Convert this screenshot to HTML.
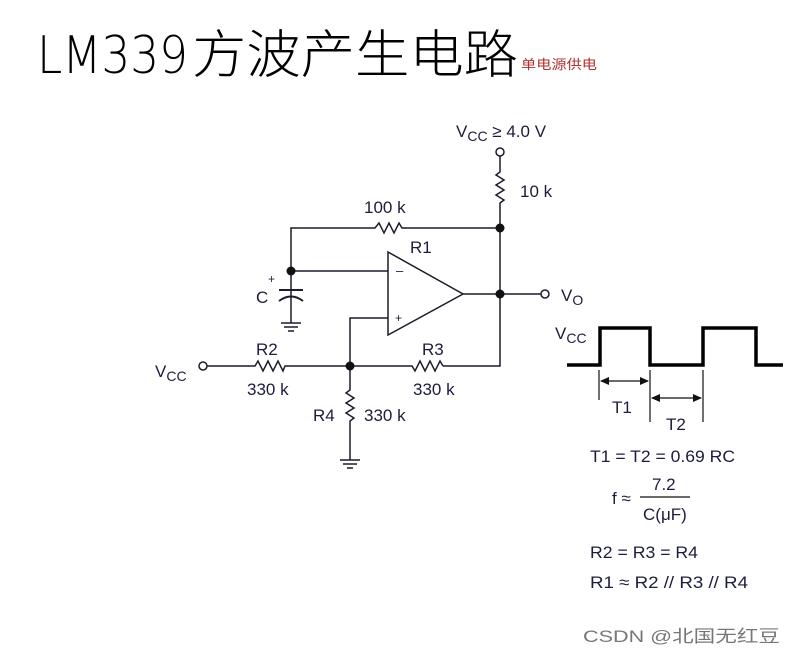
<!DOCTYPE html>
<html><head><meta charset="utf-8"><style>
html,body{margin:0;padding:0;background:#fff;}
svg{display:block;}
text{font-family:"Liberation Sans","Noto Sans CJK SC",sans-serif;fill:#1c1c3c;}
.t{fill:#000;font-family:'DejaVu Sans ExtraLight','DejaVu Sans','Noto Sans CJK SC',sans-serif;}
</style></head><body>
<svg width="797" height="655" viewBox="0 0 797 655" xmlns="http://www.w3.org/2000/svg">
<text class="t" x="37" y="73" font-size="52" font-weight="200" textLength="151" lengthAdjust="spacingAndGlyphs">LM339</text>
<text class="t" x="192" y="73" font-size="52" font-weight="200" textLength="326" lengthAdjust="spacingAndGlyphs">方波产生电路</text>
<text x="521" y="69" font-size="13" style="fill:#b03030" textLength="76" lengthAdjust="spacingAndGlyphs">单电源供电</text>

<g stroke="#1c1c2c" stroke-width="1.5" fill="none">
<circle cx="500" cy="152" r="4" fill="#fff"/>
<path d="M500 156 V172 l-4 3 l8 5 l-8 5 l8 5 l-8 5 l8 5 l-4 3 V366 H443"/>
<path d="M500 228 H402 l-3 -5 l-5 10 l-5 -10 l-5 10 l-5 -10 l-4 5 H291 V297"/>
<path d="M291 271 H388"/>
<path d="M388 252 L463 294 L388 335 Z"/>
<path d="M463 294 H541"/>
<circle cx="545" cy="294" r="4" fill="#fff"/>
<path d="M388 318 H350 V390 l-4 3 l8 5 l-8 5 l8 5 l-8 5 l8 5 l-4 3 V460"/>
<path d="M443 366 l-3 -5 l-5 10 l-5 -10 l-5 10 l-5 -10 l-5 10 l-3 -5 H350"/>
<circle cx="203" cy="366" r="4" fill="#fff"/>
<path d="M207 366 H255 l3 -5 l5 10 l5 -10 l5 10 l5 -10 l5 10 l2 -5 H350"/>
<path d="M279 290 H303" stroke-width="2"/>
<path d="M279 301 Q291 292 303 301" stroke-width="2"/>
<path d="M291 296 V323"/>
<path d="M281 323 H301 M284 327 H298 M288 331 H294"/>
<path d="M340 460 H360 M343 464 H357 M347 468 H353"/>
</g>
<g fill="#111">
<circle cx="500" cy="228" r="4.5"/><circle cx="291" cy="271" r="4.5"/>
<circle cx="500" cy="294" r="4.5"/><circle cx="350" cy="366" r="4.5"/>
</g>
<g font-size="17">
<text x="456" y="137">V<tspan font-size="14" dy="4">CC</tspan><tspan dy="-4"> ≥ 4.0 V</tspan></text>
<text x="520" y="197">10 k</text>
<text x="364" y="213">100 k</text>
<text x="410" y="253">R1</text>
<text x="256" y="303">C</text>
<text x="268" y="283" font-size="12">+</text>
<text x="396" y="275" font-size="13">–</text>
<text x="395" y="322" font-size="12">+</text>
<text x="561" y="301">V<tspan font-size="14" dy="4">O</tspan></text>
<text x="155" y="377">V<tspan font-size="14" dy="4">CC</tspan></text>
<text x="256" y="355">R2</text>
<text x="247" y="395">330 k</text>
<text x="422" y="355">R3</text>
<text x="413" y="395">330 k</text>
<text x="313" y="421">R4</text>
<text x="364" y="421">330 k</text>
<text x="555" y="339">V<tspan font-size="14" dy="4">CC</tspan></text>
</g>
<path d="M567 365 H600 V328 H650 V365 H703 V328 H756 V365 H783" stroke="#000" stroke-width="3.5" fill="none"/>
<g stroke="#111" stroke-width="1.2" fill="none">
<path d="M599 370 V400 M650 370 V422 M703 370 V422"/>
<path d="M601 381 H648 M652 398 H701"/>
</g>
<g fill="#111">
<path d="M600 381 l9 -4 v8z M649 381 l-9 -4 v8z M651 398 l9 -4 v8z M702 398 l-9 -4 v8z"/>
</g>
<g font-size="17">
<text x="612" y="413">T1</text>
<text x="666" y="430">T2</text>
<text x="590" y="462" textLength="145" lengthAdjust="spacingAndGlyphs">T1 = T2 = 0.69 RC</text>
<text x="612" y="504">f ≈</text>
<text x="652" y="490">7.2</text>
<line x1="640" y1="497" x2="690" y2="497" stroke="#111" stroke-width="1.2"/>
<text x="643" y="520">C(μF)</text>
<text x="590" y="558" textLength="108" lengthAdjust="spacingAndGlyphs">R2 = R3 = R4</text>
<text x="590" y="588" textLength="158" lengthAdjust="spacingAndGlyphs">R1 ≈ R2 // R3 // R4</text>
</g>
<text x="583" y="642" font-size="17" style="fill:#777" textLength="197" lengthAdjust="spacingAndGlyphs">CSDN @北国无红豆</text>
</svg>
</body></html>
